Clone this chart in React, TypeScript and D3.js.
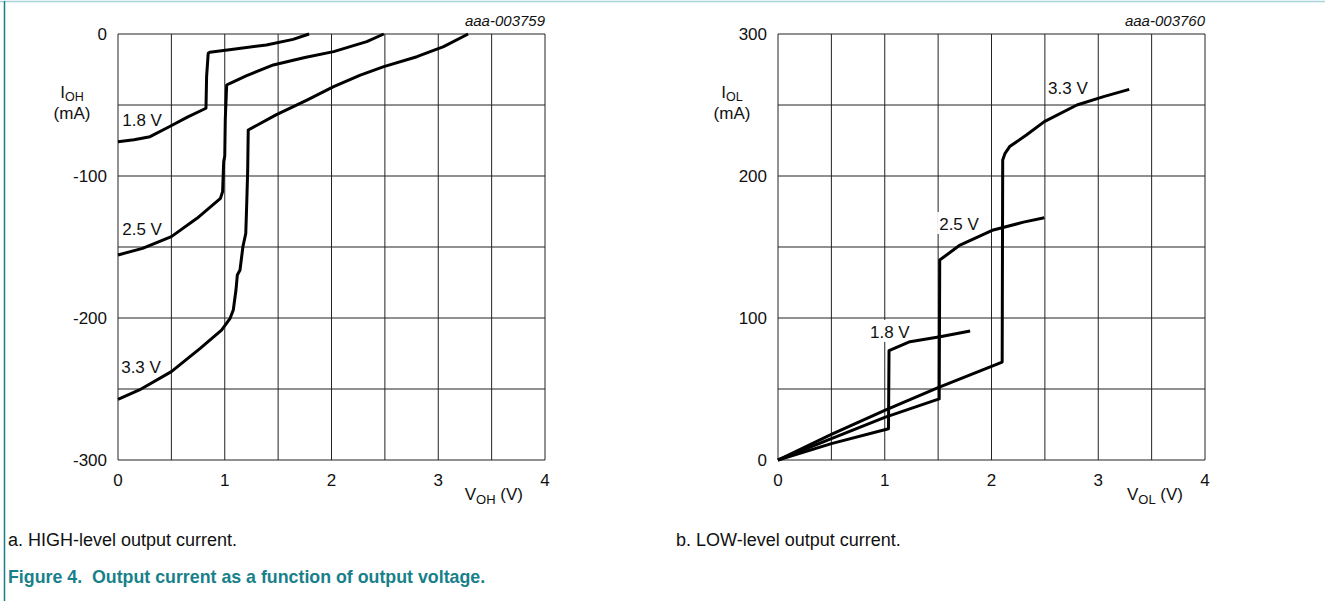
import * as d3 from 'd3'

type Pt = [number, number]

// grid / ticks
const voltGrid = [0, 0.5, 1, 1.5, 2, 2.5, 3, 3.5, 4]
const voltTicks = [0, 1, 2, 3, 4]
const iohGrid = [-300, -250, -200, -150, -100, -50, 0]
const iohTicks = [0, -100, -200, -300]
const iolGrid = [0, 50, 100, 150, 200, 250, 300]
const iolTicks = [0, 100, 200, 300]

// a. HIGH-level output current (V, mA)
const ioh18: Pt[] = [
  [0, -75.8], [0.15, -74.5], [0.3, -72.3], [0.48, -65.3], [0.65, -58.5], [0.824, -52.3],
  [0.83, -30], [0.845, -13.6], [0.86, -12.9], [1.08, -10.8], [1.39, -7.7], [1.64, -3.8], [1.79, 0],
]
const ioh25: Pt[] = [
  [0, -155.6], [0.23, -151], [0.5, -142.7], [0.74, -129.8], [0.96, -115.7], [0.98, -111],
  [0.99, -90], [1.0, -86], [1.005, -60], [1.018, -35.9], [1.05, -34.7], [1.2, -29.5],
  [1.455, -21.8], [1.75, -16.5], [2.02, -12.4], [2.33, -5.4], [2.49, 0],
]
const ioh33: Pt[] = [
  [0, -257.3], [0.2, -250.7], [0.5, -237.8], [0.77, -221.4], [0.97, -208.5], [1.05, -200.2],
  [1.08, -194.4], [1.105, -180.3], [1.118, -169.7], [1.143, -166.2], [1.17, -149.8],
  [1.197, -140.4], [1.206, -119.2], [1.215, -95.8], [1.22, -67.6], [1.48, -57], [1.77, -46.5],
  [2.02, -37.1], [2.27, -28.9], [2.49, -23], [2.8, -16], [3.05, -8.9], [3.28, 0],
]

// b. LOW-level output current (V, mA)
const iol18: Pt[] = [
  [0, 0], [0.5, 11.5], [1.035, 22], [1.04, 77], [1.1, 79], [1.236, 83.3], [1.518, 86.8], [1.8, 90.8],
]
const iol25: Pt[] = [
  [0, 0], [0.5, 15], [1.0, 30], [1.51, 43], [1.515, 140.8], [1.705, 151.4], [2.017, 162],
  [2.3, 167.5], [2.495, 170.6],
]
const iol33: Pt[] = [
  [0, 0], [0.5, 18], [1.0, 35], [1.5, 51], [2.1, 69], [2.105, 211.3], [2.127, 216], [2.17, 220.7],
  [2.33, 229], [2.495, 238.3], [2.8, 250], [3.05, 255.9], [3.29, 261],
]

const highLabels: { text: string; at: Pt }[] = [
  { text: '1.8 V', at: [0.04, -64.8] },
  { text: '2.5 V', at: [0.04, -141.5] },
  { text: '3.3 V', at: [0.03, -238.7] },
]
const lowLabels: { text: string; at: Pt }[] = [
  { text: '1.8 V', at: [0.862, 86] },
  { text: '2.5 V', at: [1.51, 162] },
  { text: '3.3 V', at: [2.53, 258] },
]

const FONT = '"Liberation Sans", Arial, Helvetica, sans-serif'
const TEAL = '#17808a'

function Panel({
  x0, x1, yDomain, grid, ticks, curves, labels, ySub, xSub, code,
}: {
  x0: number
  x1: number
  yDomain: [number, number]
  grid: number[]
  ticks: number[]
  curves: Pt[][]
  labels: { text: string; at: Pt }[]
  ySub: string
  xSub: string
  code: string
}) {
  const top = 34
  const bottom = 460
  const x = d3.scaleLinear().domain([0, 4]).range([x0, x1])
  const y = d3.scaleLinear().domain(yDomain).range([bottom, top])
  const line = d3.line<Pt>().x((d) => x(d[0])).y((d) => y(d[1]))

  return (
    <g fontFamily={FONT}>
      {/* grid */}
      {voltGrid.map((v) => (
        <line key={'v' + v} x1={x(v)} x2={x(v)} y1={top} y2={bottom} stroke="#222" strokeWidth={1} />
      ))}
      {grid.map((v) => (
        <line key={'h' + v} x1={x0} x2={x1} y1={y(v)} y2={y(v)} stroke="#222" strokeWidth={1} />
      ))}

      {/* tick labels */}
      {ticks.map((t) => (
        <text key={'yt' + t} x={x0 - 11} y={y(t)} dy="0.35em" textAnchor="end" fontSize={17} fill="#111">
          {t}
        </text>
      ))}
      {voltTicks.map((t) => (
        <text key={'xt' + t} x={x(t)} y={bottom + 26} textAnchor="middle" fontSize={17} fill="#111">
          {t}
        </text>
      ))}

      {/* axis titles */}
      <text x={x0 - 46} y={98} textAnchor="middle" fontSize={17} fill="#111">
        I<tspan fontSize={12.5} dy={3}>{ySub}</tspan>
      </text>
      <text x={x0 - 46} y={119} textAnchor="middle" fontSize={17} fill="#111">(mA)</text>
      <text x={x1 - 22} y={500} textAnchor="end" fontSize={17} fill="#111">
        V<tspan fontSize={13} dy={4}>{xSub}</tspan><tspan dy={-4}> (V)</tspan>
      </text>
      <text x={x1} y={26} textAnchor="end" fontSize={15} fontStyle="italic" fill="#111">{code}</text>

      {/* curve labels */}
      {labels.map((l) => (
        <g key={l.text}>
          <rect x={x(l.at[0]) - 2} y={y(l.at[1]) - 18} width={48} height={22} fill="#fff" />
          <text x={x(l.at[0])} y={y(l.at[1])} fontSize={17} fill="#111">{l.text}</text>
        </g>
      ))}

      {/* curves */}
      {curves.map((c, i) => (
        <path key={i} d={line(c) ?? ''} fill="none" stroke="#000" strokeWidth={3} strokeLinejoin="round" />
      ))}
    </g>
  )
}

export default function App() {
  return (
    <div style={{ position: 'absolute', left: 0, top: 0 }}>
      <svg width={1325} height={601} style={{ display: 'block', background: '#fff' }}>
        <line x1={0} x2={1325} y1={1.5} y2={1.5} stroke="#a9d2da" strokeWidth={1.5} />
        <line x1={4.5} x2={4.5} y1={1} y2={601} stroke={TEAL} strokeWidth={1.5} />

        <Panel
          x0={118} x1={545} yDomain={[-300, 0]} grid={iohGrid} ticks={iohTicks}
          curves={[ioh18, ioh25, ioh33]} labels={highLabels} ySub="OH" xSub="OH" code="aaa-003759"
        />
        <Panel
          x0={778} x1={1205} yDomain={[0, 300]} grid={iolGrid} ticks={iolTicks}
          curves={[iol18, iol25, iol33]} labels={lowLabels} ySub="OL" xSub="OL" code="aaa-003760"
        />

        <g fontFamily={FONT}>
          <text x={8} y={546} fontSize={18} fill="#111">a. HIGH-level output current.</text>
          <text x={676} y={546} fontSize={18} fill="#111">b. LOW-level output current.</text>
          <text x={8} y={583} fontSize={17.8} fontWeight="bold" fill={TEAL} xmlSpace="preserve">
            Figure 4.  Output current as a function of output voltage.
          </text>
        </g>
      </svg>
    </div>
  )
}
